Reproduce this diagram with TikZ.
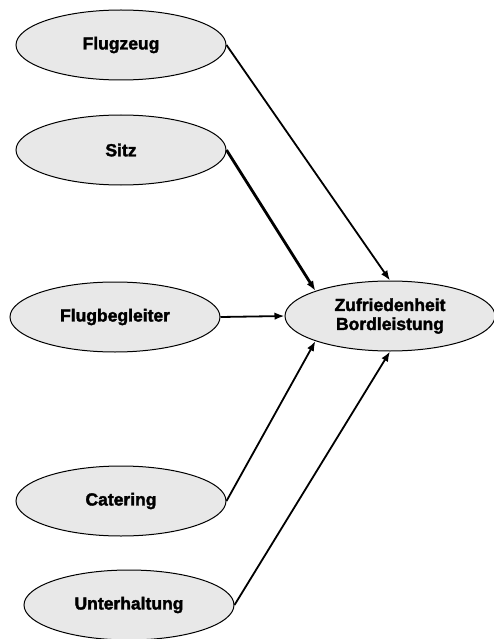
\documentclass[tikz,border=0pt]{standalone}
\usepackage{fontspec}
\setmainfont{Liberation Sans}[BoldFeatures={FakeBold=2}]
\usetikzlibrary{shapes.geometric,arrows.meta}
\begin{document}
\begin{tikzpicture}[x=1pt,y=-1pt,
  construct/.style={ellipse, draw=black, line width=1pt, fill=black!9,
    minimum width=210pt, minimum height=70pt, inner sep=0pt,
    font=\fontsize{17.5}{19}\selectfont\bfseries, align=center},
  effect/.style={-{Latex[length=10pt,width=7.5pt]}, line width=1.8pt},
  strong/.style={effect, line width=2.8pt}]
\useasboundingbox (0,0) rectangle (493,639);
\node[construct] (fz)  at (121,45)  {Flugzeug};
\node[construct] (sz)  at (121,150) {Sitz};
\node[construct] (fb)  at (115,317) {Flugbegleiter};
\node[construct] (ct)  at (121,501) {Catering};
\node[construct] (uh)  at (129,605) {Unterhaltung};
\node[construct] (zb)  at (390,316) {Zufriedenheit\\Bordleistung};
\draw[effect] (fz.east) -- (zb.north);
\draw[strong] (sz.east) -- (zb.north west);
\draw[effect] (fb.east) -- (zb.west);
\draw[effect] (ct.east) -- (zb.south west);
\draw[effect] (uh.east) -- (zb.south);
\end{tikzpicture}
\end{document}
